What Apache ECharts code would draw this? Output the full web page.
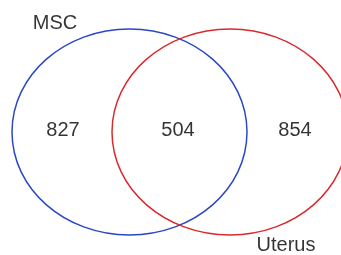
<!DOCTYPE html>
<html>
<head>
<meta charset="utf-8">
<script src="https://cdn.jsdelivr.net/npm/echarts@6/dist/echarts.min.js"></script>
<style>
  html, body { margin: 0; padding: 0; background: #fff; }
  #main { width: 341px; height: 255px; }
</style>
</head>
<body>
<div id="main"></div>
<script>
// set names and region counts (only A, A&B, only B)
var setNames = ['MSC', 'Uterus'];
var regionCounts = [827, 504, 854];

// ellipse layout in plot units (0..341 x 0..255, y down)
var setCx = [129.5, 230];
var setCy = [132, 132];
var setRx = [117.5, 118];
var setRy = [103, 103];
var setColors = ['#2b48c2', '#d92a2e'];

// where the counts and set names sit
var regionX = [63, 178, 295];
var regionY = [130, 130, 130];
var nameX = [55, 286];
var nameY = [23, 245];

var myChart = echarts.init(document.getElementById('main'));

var ellipseData = setNames.map(function (n, i) {
    return [setCx[i], setCy[i], setRx[i], setRy[i], i];
});
var countData = regionCounts.map(function (v, i) {
    return { value: [regionX[i], regionY[i]], name: String(v) };
});
var nameData = setNames.map(function (n, i) {
    return { value: [nameX[i], nameY[i]], name: n };
});

var option = {
    animation: false,
    grid: { left: 0, right: 0, top: 0, bottom: 0 },
    xAxis: { type: 'value', min: 0, max: 341, show: false },
    yAxis: { type: 'value', min: 0, max: 255, inverse: true, show: false },
    series: [
        {
            type: 'custom',
            data: ellipseData,
            silent: true,
            renderItem: function (params, api) {
                var c = api.coord([api.value(0), api.value(1)]);
                var s = api.size([api.value(2), api.value(3)]);
                return {
                    type: 'ellipse',
                    shape: { cx: c[0], cy: c[1], rx: s[0], ry: s[1] },
                    style: {
                        fill: 'none',
                        stroke: setColors[api.value(4)],
                        lineWidth: 1.5
                    }
                };
            }
        },
        {
            type: 'scatter',
            symbol: 'circle',
            symbolSize: 1,
            silent: true,
            itemStyle: { color: 'rgba(0,0,0,0)' },
            data: countData.concat(nameData),
            label: {
                show: true,
                position: 'inside',
                formatter: '{b}',
                color: '#000',
                textBorderWidth: 0,
                fontSize: 20,
                fontFamily: 'Liberation Sans, Arial, sans-serif'
            }
        }
    ]
};
myChart.setOption(option);
</script>
</body>
</html>
